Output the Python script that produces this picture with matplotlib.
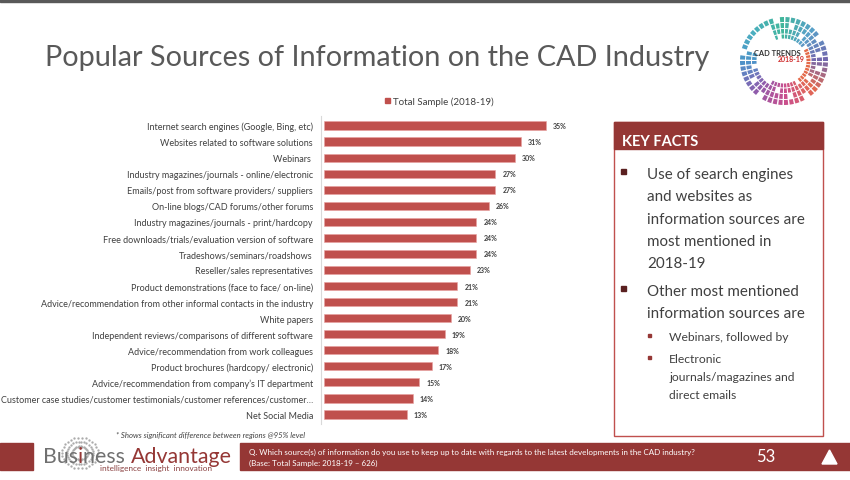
import numpy as np
import matplotlib.pyplot as plt
from matplotlib.patches import Rectangle, Wedge, Polygon
from matplotlib.colors import LinearSegmentedColormap

plt.rcParams['font.family'] = ['Lato', 'DejaVu Sans']

# --- data -------------------------------------------------------------
sources = [
    "Internet search engines (Google, Bing, etc)",
    "Websites related to software solutions",
    "Webinars ",
    "Industry magazines/journals - online/electronic",
    "Emails/post from software providers/ suppliers",
    "On-line blogs/CAD forums/other forums",
    "Industry magazines/journals - print/hardcopy",
    "Free downloads/trials/evaluation version of software",
    "Tradeshows/seminars/roadshows",
    "Reseller/sales representatives",
    "Product demonstrations (face to face/ on-line)",
    "Advice/recommendation from other informal contacts in the industry",
    "White papers",
    "Independent reviews/comparisons of different software",
    "Advice/recommendation from work colleagues",
    "Product brochures (hardcopy/ electronic)",
    "Advice/recommendation from company\u2019s IT department",
    "Customer case studies/customer testimonials/customer references/customer\u2026",
    "Net Social Media",
]
share = [35, 31, 30, 27, 27, 26, 24, 24, 24, 23, 21, 21, 20, 19, 18, 17, 15, 14, 13]

bar_color = "#C0504D"
dark_red = "#953735"
text_col = "#404040"
W, H = 850, 481

fig = plt.figure(figsize=(W / 100, H / 100), dpi=100)
fig.patch.set_facecolor("white")

# overlay axes in pixel coordinates for the slide decoration
deco = fig.add_axes([0, 0, 1, 1], zorder=0)
deco.set_xlim(0, W)
deco.set_ylim(H, 0)
deco.axis("off")

# top border
deco.add_patch(Rectangle((0, 0), W, 3, color="#595959"))

# title
deco.text(45, 58, "Popular Sources of Information on the CAD Industry",
          fontsize=20.8, color="#595959", va="center", ha="left")

# CAD trends logo (rough ring of coloured segments)
ring_cmap = LinearSegmentedColormap.from_list(
    "ring", ["#5a4fa0", "#3a8fbf", "#1fa98a", "#2ba0b5", "#2f7fc0",
             "#7b3f9e", "#c0307a", "#e05030", "#5a4fa0"])
cx, cy = 784, 62
for r, w in [(44, 5), (38, 5), (32, 4.5), (26.5, 4)]:
    for k in range(48):
        a0 = k * 7.5
        # sparse upper-left and some irregular gaps
        if 110 < a0 < 160 and r < 40:
            continue
        # innermost ring only on the right/bottom, clear of the text
        if r < 30 and 120 < a0 < 230:
            continue
        if (k * 7 + int(r)) % 9 == 0:
            continue
        col = ring_cmap(a0 / 360)
        if r < 30 and (a0 > 300 or a0 < 30):
            col = "#e0502a"
        deco.add_patch(Wedge((cx, cy), r, -a0 - 5.5, -a0, width=w,
                             color=col, alpha=0.85, lw=0))
deco.text(754, 53, "CAD TRENDS", fontsize=5.4, fontweight="bold",
          color="#333333", ha="left", va="center")
deco.text(778, 60, "2018-19", fontsize=5, fontweight="bold",
          color="#D03030", ha="left", va="center")

# legend
deco.add_patch(Rectangle((385, 99), 5, 5, color=bar_color))
deco.text(393, 102, "Total Sample (2018-19)", fontsize=7, color=text_col,
          va="center", ha="left")

# key facts box
deco.add_patch(Rectangle((614, 123), 209, 314, fill=False,
                         edgecolor="#C0504D", lw=1))
deco.add_patch(Rectangle((614, 123), 209, 27, color=dark_red))
deco.text(622, 142, "KEY FACTS", fontsize=10.5, fontweight="bold",
          color="white", va="center")

big = ["Use of search engines", "and websites as",
       "information sources are", "most mentioned in", "2018-19"]
for i, line in enumerate(big):
    deco.text(647, 175 + i * 22.3, line, fontsize=10.9, color=text_col,
              va="center")
deco.add_patch(Rectangle((621, 170), 5, 5, color="#5a2020"))
big2 = ["Other most mentioned", "information sources are"]
for i, line in enumerate(big2):
    deco.text(647, 292 + i * 22.3, line, fontsize=10.9, color=text_col,
              va="center")
deco.add_patch(Rectangle((621, 287), 5, 5, color="#5a2020"))
small = [(338, "Webinars, followed by"), (360, "Electronic"),
         (378, "journals/magazines and"), (396, "direct emails")]
for y, line in small:
    deco.text(669, y, line, fontsize=8.7, color=text_col, va="center")
for y in (336, 358):
    deco.add_patch(Rectangle((648, y - 1), 3, 3, color=dark_red))

# footnote
deco.text(116, 436, "* Shows significant difference between regions @95% level",
          fontsize=5.6, style="italic", color=text_col, va="center")

# footer band
deco.add_patch(Rectangle((0, 444), 33, 27, color=dark_red))
deco.add_patch(Rectangle((240, 444), W - 240, 27, color=dark_red))
# globe dots
for ang in np.linspace(0, 2 * np.pi, 30, endpoint=False):
    for rr in (8, 13, 18):
        deco.plot(80 + rr * np.cos(ang), 454 + rr * np.sin(ang) * 0.85, ".",
                  ms=1.3, color="#a8a8a8", zorder=1)
# company name: pieces chained one after another
t = deco.text(43, 457, "Bus", fontsize=15.4, color="#707070", va="center", zorder=2)
for piece, col in [("i", dark_red), ("ness ", "#707070"), ("Advantage", dark_red)]:
    t = deco.annotate(piece, xy=(1, 0.5), xycoords=t, va="center",
                      fontsize=15.4, color=col, zorder=2)
deco.text(100, 469, "intelligence  insight  innovation", fontsize=5.9,
          color="#8a4040", va="center")
deco.text(249, 452, "Q. Which source(s) of information do you use to keep up to date "
          "with regards to the latest developments in the CAD industry?",
          fontsize=5.8, color="white", va="center")
deco.text(249, 463, "(Base: Total Sample: 2018-19 \u2013 626)",
          fontsize=5.8, color="white", va="center")
deco.text(756, 457, "53", fontsize=12, color="white", va="center")
deco.add_patch(Polygon([[822, 465], [837, 465], [829.5, 451]], color="white"))

# --- bar chart ----------------------------------------------------------
ax = fig.add_axes([324 / W, 1 - 425 / H, 254 / W, 308 / H], zorder=1)
ax.patch.set_alpha(0)
y = np.arange(len(sources))
ax.barh(y, share, height=0.52, color=bar_color, edgecolor="#E8A0A0", lw=0.4)
for yi, v in zip(y, share):
    ax.text(v + 1.1, yi, f"{v}%", fontsize=5, fontweight="bold",
            color=text_col, va="center", ha="left")
ax.set_xlim(0, 40)
ax.set_ylim(len(sources) - 0.4, -0.6)
ax.set_yticks(y)
ax.set_yticklabels(sources)
ax.tick_params(axis="y", length=0, pad=6, labelsize=6.5, labelcolor=text_col)
ax.set_xticks([])
for s in ("top", "right", "bottom"):
    ax.spines[s].set_visible(False)
ax.spines["left"].set_color("#D9D9D9")
ax.spines["left"].set_position(("outward", 2))

fig.savefig("out.png", dpi=100)
